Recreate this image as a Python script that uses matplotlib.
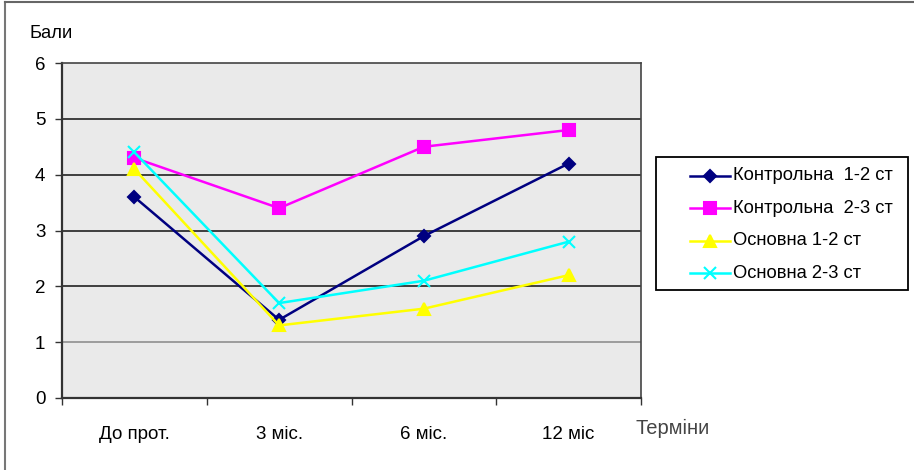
import matplotlib
matplotlib.use("Agg")
import matplotlib.pyplot as plt
from matplotlib.lines import Line2D
from matplotlib.patches import Rectangle

plt.rcParams["font.family"] = ["Liberation Sans", "DejaVu Sans"]

# Терміни спостереження та середні бали по групах
PERIODS = ["До прот.", "3 міс.", "6 міс.", "12 міс"]
CONTROL_12 = [3.6, 1.4, 2.9, 4.2]
CONTROL_23 = [4.3, 3.4, 4.5, 4.8]
MAIN_12 = [4.1, 1.3, 1.6, 2.2]
MAIN_23 = [4.4, 1.7, 2.1, 2.8]

SERIES = [
    ("Контрольна  1-2 ст", CONTROL_12, "#000080", "D", 6),
    ("Контрольна  2-3 ст", CONTROL_23, "#FF00FF", "s", 8),
    ("Основна 1-2 ст", MAIN_12, "#FFFF00", "^", 8),
    ("Основна 2-3 ст", MAIN_23, "#00FFFF", "x", 8),
]

W, H = 914, 470


def fx(px):
    return px / W


def fy(py):
    return 1 - py / H


fig = plt.figure(figsize=(W / 100, H / 100), dpi=100)
ax = fig.add_axes([fx(62), fy(398), (641 - 62) / W, (398 - 63) / H])
ax.set_facecolor("#EAEAEA")

x = list(range(len(PERIODS)))
for label, vals, col, mk, ms in SERIES:
    ax.plot(x, vals, color=col, lw=1.8, marker=mk, ms=ms, mew=1.5,
            mfc=col, mec=col, label=label, zorder=3)

ax.set_ylim(0, 6)
ax.set_yticks(range(7))
ax.set_xlim(-0.5, len(PERIODS) - 0.5)
# category boundaries carry the tick marks, labels sit in between
ax.set_xticks([i - 0.5 for i in range(len(PERIODS) + 1)])
ax.set_xticklabels([])
ax.set_xticks(x, minor=True)
ax.set_xticklabels(PERIODS, minor=True, fontsize=13.5)
ax.tick_params(axis="x", which="minor", length=0, pad=20)
ax.tick_params(axis="x", which="major", length=5, width=1, color="#333333")
ax.tick_params(axis="y", length=5, width=1, color="#333333", labelsize=13.5, pad=7)

for yv in range(2, 6):
    ax.axhline(yv, color="#111111", lw=1.1, zorder=1)
ax.axhline(1, color="#888888", lw=1.1, zorder=1)

for side in ["left", "bottom"]:
    ax.spines[side].set_color("#333333")
    ax.spines[side].set_linewidth(1.6)
for side in ["top", "right"]:
    ax.spines[side].set_color("#444444")
    ax.spines[side].set_linewidth(1.2)

fig.text(fx(30), fy(33), "Бали", fontsize=13.2, va="center", ha="left")
fig.text(fx(636), fy(428), "Терміни", fontsize=14.5, va="center",
         ha="left", color="#444444")

# legend box, drawn by hand to keep the wide left inset
fig.add_artist(Rectangle((fx(656), fy(290)), (908 - 656) / W, (290 - 157) / H,
                         transform=fig.transFigure, fc="white", ec="black", lw=1.3))
for i, (label, _, col, mk, ms) in enumerate(SERIES):
    yy = fy(176 + i * 32.4)
    fig.add_artist(Line2D([fx(690), fx(730)], [yy, yy], color=col, lw=1.8,
                          transform=fig.transFigure))
    fig.add_artist(Line2D([fx(710)], [yy], color=col, marker=mk, ms=ms, mew=1.5,
                          mfc=col, mec=col, transform=fig.transFigure))
    fig.text(fx(733), yy, label, fontsize=13.2, va="center", ha="left")

# outer chart frame (top and left edges)
fig.add_artist(Line2D([fx(5), fx(5)], [0, fy(2)], color="#777777",
                      lw=1.5, transform=fig.transFigure))
fig.add_artist(Line2D([fx(5), 1], [fy(2), fy(2)], color="#666666",
                      lw=1.5, transform=fig.transFigure))

fig.savefig("out.png", dpi=100)
